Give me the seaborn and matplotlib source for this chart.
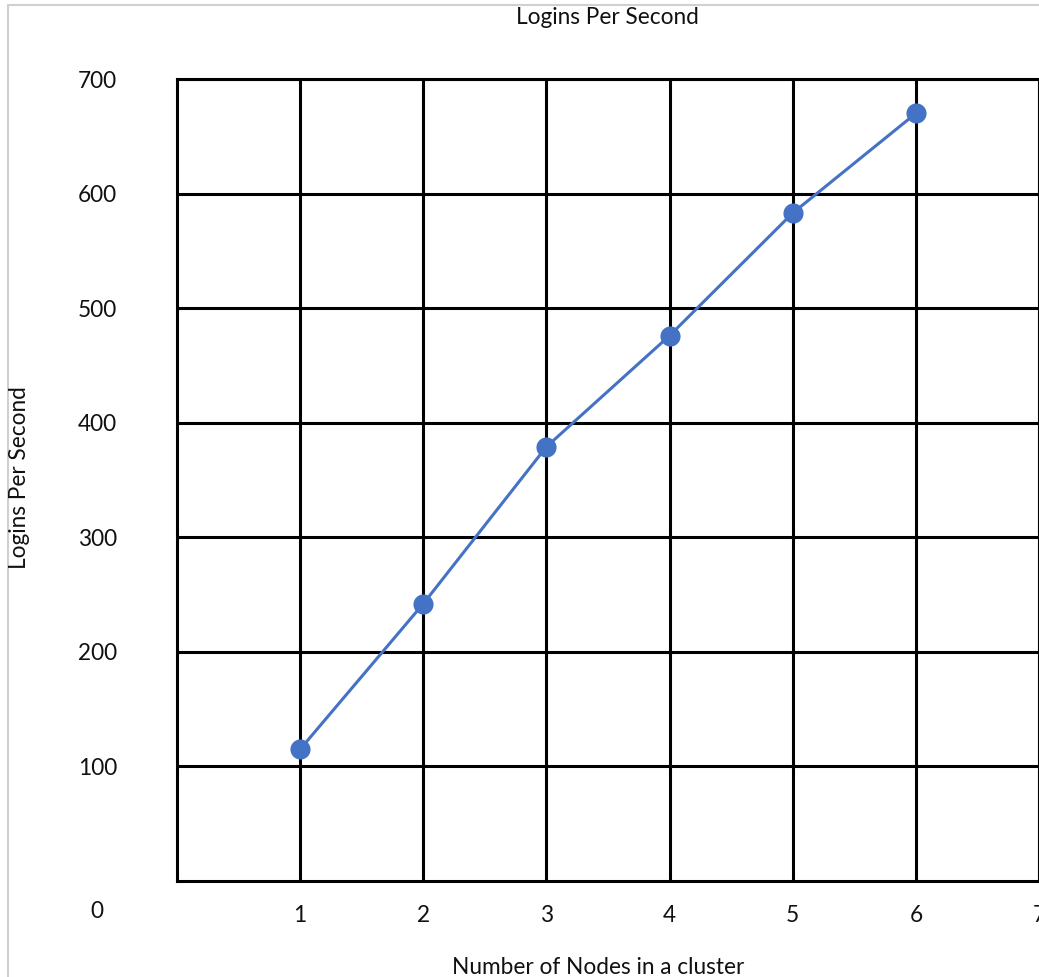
import pandas as pd
import matplotlib
matplotlib.use('Agg')
import matplotlib.pyplot as plt
import seaborn as sns
from matplotlib.patches import Rectangle

# 데이터
nodes = [1, 2, 3, 4, 5, 6]
logins = [115, 242, 379, 476, 583, 670]
x_ticks = [1, 2, 3, 4, 5, 6, 7]
y_ticks = [100, 200, 300, 400, 500, 600, 700]

df = pd.DataFrame({'nodes': nodes, 'logins': logins})

sns.set_theme(style='white')
plt.rcParams['font.family'] = ['Lato', 'DejaVu Sans']

W, H = 1039, 977
fig = plt.figure(figsize=(W / 100, H / 100), dpi=100)

# 차트 영역 (픽셀 기준)
left, right, top, bottom = 177, 1039, 79, 881
ax = fig.add_axes([left / W, 1 - bottom / H, (right - left) / W, (bottom - top) / H])

sns.lineplot(data=df, x='nodes', y='logins', ax=ax, color='#4472C4',
             linewidth=2.2, marker='o', markersize=14.5,
             markeredgewidth=0, zorder=5)

ax.set_xlim(0, 7)
ax.set_ylim(0, 700)
ax.set_xticks(x_ticks)
ax.set_xticklabels([str(t) for t in x_ticks])
ax.set_yticks(y_ticks)
ax.set_yticklabels([str(t) for t in y_ticks])

ax.grid(True, color='black', linewidth=2.2)
ax.set_axisbelow(True)
for s in ax.spines.values():
    s.set_color('black')
    s.set_linewidth(2.2)

fs = 16.3
txt_color = '#111111'
ax.tick_params(axis='both', length=0, labelsize=fs, colors=txt_color)
ax.tick_params(axis='x', pad=17)
ax.tick_params(axis='y', pad=43)

ax.set_xlabel('')
ax.set_ylabel('')

# 제목, 축 이름
fig.text(607 / W, 1 - 18 / H, 'Logins Per Second', ha='center', va='center',
         fontsize=fs, color=txt_color)
fig.text(20 / W, 1 - 478 / H, 'Logins Per Second', ha='center', va='center',
         rotation=90, fontsize=fs, color=txt_color)
fig.text(598 / W, 1 - 967 / H, 'Number of Nodes in a cluster', ha='center', va='center',
         fontsize=fs, color=txt_color)
fig.text(97 / W, 1 - 912 / H, '0', ha='center', va='center', fontsize=fs, color=txt_color)

# 차트 테두리
fig.patches.append(Rectangle((8 / W, -0.1), 1.2, 1 - 5 / H + 0.1, transform=fig.transFigure,
                             fill=False, edgecolor='#d0d0d0', linewidth=1.5))

fig.savefig('out.png', dpi=100)
